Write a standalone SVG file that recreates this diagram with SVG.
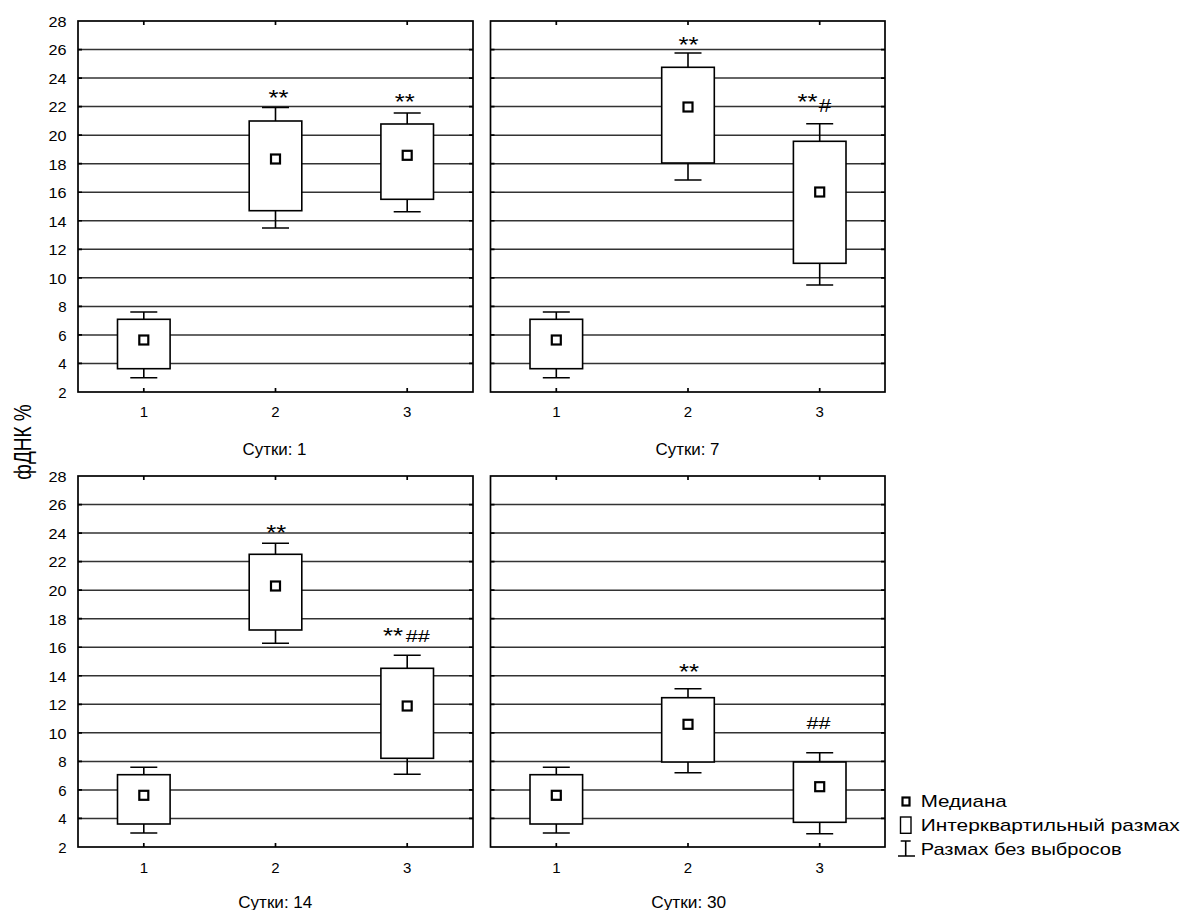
<svg xmlns="http://www.w3.org/2000/svg" width="1182" height="910" viewBox="0 0 1182 910">
<style>
text{font-family:"Liberation Sans",Arial,sans-serif;fill:#000}
.tk{font-size:15px}
.ttl{font-size:16.5px}
.ast{font-size:22px}
.hash{font-size:16.5px}
.lg{font-size:17px}
.grid line{stroke:#333;stroke-width:1.5}
.frame{fill:none;stroke:#000;stroke-width:1.7}
.ticks path{stroke:#000;stroke-width:1.7;fill:none}
.wh{stroke:#000;stroke-width:1.6;fill:none}
.box{fill:#fff;stroke:#000;stroke-width:1.6}
.med{fill:#fff;stroke:#000;stroke-width:2.2}
</style>
<rect width="1182" height="910" fill="#fff"/>

<!-- Y axis title -->
<text id="ytitle" transform="translate(31,442) scale(1.25,1) rotate(-90)" text-anchor="middle" style="font-size:19px">фДНК %</text>

<!-- Panel: Сутки 1 -->
<g id="panel-day1">
<g class="grid">
<line x1="78" y1="49.54" x2="473" y2="49.54"/><line x1="78" y1="78.08" x2="473" y2="78.08"/><line x1="78" y1="106.62" x2="473" y2="106.62"/><line x1="78" y1="135.15" x2="473" y2="135.15"/><line x1="78" y1="163.69" x2="473" y2="163.69"/><line x1="78" y1="192.23" x2="473" y2="192.23"/><line x1="78" y1="220.77" x2="473" y2="220.77"/><line x1="78" y1="249.31" x2="473" y2="249.31"/><line x1="78" y1="277.85" x2="473" y2="277.85"/><line x1="78" y1="306.38" x2="473" y2="306.38"/><line x1="78" y1="334.92" x2="473" y2="334.92"/><line x1="78" y1="363.46" x2="473" y2="363.46"/>
</g>
<g class="ticks"><path d="M143.8,21v4M275.5,21v4M407.2,21v4M143.8,392v-4M275.5,392v-4M407.2,392v-4M78,49.54h4M78,78.08h4M78,106.62h4M78,135.15h4M78,163.69h4M78,192.23h4M78,220.77h4M78,249.31h4M78,277.85h4M78,306.38h4M78,334.92h4M78,363.46h4M473,49.54h-4M473,78.08h-4M473,106.62h-4M473,135.15h-4M473,163.69h-4M473,192.23h-4M473,220.77h-4M473,249.31h-4M473,277.85h-4M473,306.38h-4M473,334.92h-4M473,363.46h-4"/></g>
<rect class="frame" x="78" y="21" width="395" height="371"/>
<g class="tk" text-anchor="end">
<text x="66.5" y="26.8" textLength="18" lengthAdjust="spacingAndGlyphs">28</text><text x="66.5" y="55.3" textLength="18" lengthAdjust="spacingAndGlyphs">26</text><text x="66.5" y="83.9" textLength="18" lengthAdjust="spacingAndGlyphs">24</text><text x="66.5" y="112.4" textLength="18" lengthAdjust="spacingAndGlyphs">22</text><text x="66.5" y="140.9" textLength="18" lengthAdjust="spacingAndGlyphs">20</text><text x="66.5" y="169.5" textLength="18" lengthAdjust="spacingAndGlyphs">18</text><text x="66.5" y="198" textLength="18" lengthAdjust="spacingAndGlyphs">16</text><text x="66.5" y="226.6" textLength="18" lengthAdjust="spacingAndGlyphs">14</text><text x="66.5" y="255.1" textLength="18" lengthAdjust="spacingAndGlyphs">12</text><text x="66.5" y="283.6" textLength="18" lengthAdjust="spacingAndGlyphs">10</text><text x="66.5" y="312.2">8</text><text x="66.5" y="340.7">6</text><text x="66.5" y="369.3">4</text><text x="66.5" y="397.8">2</text>
</g>
<g class="tk" text-anchor="middle"><text x="143.8" y="417.3">1</text><text x="275.5" y="417.3">2</text><text x="407.2" y="417.3">3</text></g>
<text class="ttl" x="274.5" y="455" text-anchor="middle" textLength="64" lengthAdjust="spacingAndGlyphs">Сутки: 1</text>
<g id="d1-g1"><path class="wh" d="M143.8,312V377.7M130.3,312h27M130.3,377.7h27"/><rect class="box" x="117.5" y="319.3" width="52.6" height="49.4"/><rect class="med" x="139.3" y="335.5" width="9" height="9"/></g>
<g id="d1-g2"><path class="wh" d="M275.5,107.5V228M262,107.5h27M262,228h27"/><rect class="box" x="249.2" y="121" width="52.6" height="89.7"/><rect class="med" x="271" y="154.5" width="9" height="9"/></g>
<g id="d1-g3"><path class="wh" d="M407.2,113V211.7M393.7,113h27M393.7,211.7h27"/><rect class="box" x="380.9" y="124" width="52.6" height="75.3"/><rect class="med" x="402.7" y="150.8" width="9" height="9"/></g>
<text class="ast" x="278.5" y="105.3" text-anchor="middle" textLength="20" lengthAdjust="spacingAndGlyphs">**</text>
<text class="ast" x="404.7" y="108.6" text-anchor="middle" textLength="20" lengthAdjust="spacingAndGlyphs">**</text>
</g>

<!-- Panel: Сутки 7 -->
<g id="panel-day7">
<g class="grid">
<line x1="490.5" y1="49.54" x2="885" y2="49.54"/><line x1="490.5" y1="78.08" x2="885" y2="78.08"/><line x1="490.5" y1="106.62" x2="885" y2="106.62"/><line x1="490.5" y1="135.15" x2="885" y2="135.15"/><line x1="490.5" y1="163.69" x2="885" y2="163.69"/><line x1="490.5" y1="192.23" x2="885" y2="192.23"/><line x1="490.5" y1="220.77" x2="885" y2="220.77"/><line x1="490.5" y1="249.31" x2="885" y2="249.31"/><line x1="490.5" y1="277.85" x2="885" y2="277.85"/><line x1="490.5" y1="306.38" x2="885" y2="306.38"/><line x1="490.5" y1="334.92" x2="885" y2="334.92"/><line x1="490.5" y1="363.46" x2="885" y2="363.46"/>
</g>
<g class="ticks"><path d="M556.3,21v4M688,21v4M819.7,21v4M556.3,392v-4M688,392v-4M819.7,392v-4M490.5,49.54h4M490.5,78.08h4M490.5,106.62h4M490.5,135.15h4M490.5,163.69h4M490.5,192.23h4M490.5,220.77h4M490.5,249.31h4M490.5,277.85h4M490.5,306.38h4M490.5,334.92h4M490.5,363.46h4M885,49.54h-4M885,78.08h-4M885,106.62h-4M885,135.15h-4M885,163.69h-4M885,192.23h-4M885,220.77h-4M885,249.31h-4M885,277.85h-4M885,306.38h-4M885,334.92h-4M885,363.46h-4"/></g>
<rect class="frame" x="490.5" y="21" width="394.5" height="371"/>
<g class="tk" text-anchor="middle"><text x="556.3" y="417.3">1</text><text x="688" y="417.3">2</text><text x="819.7" y="417.3">3</text></g>
<text class="ttl" x="687.5" y="455" text-anchor="middle" textLength="64" lengthAdjust="spacingAndGlyphs">Сутки: 7</text>
<g id="d7-g1"><path class="wh" d="M556.3,312V377.7M542.8,312h27M542.8,377.7h27"/><rect class="box" x="530" y="319.3" width="52.6" height="49.4"/><rect class="med" x="551.8" y="335.5" width="9" height="9"/></g>
<g id="d7-g2"><path class="wh" d="M688,53V180M674.5,53h27M674.5,180h27"/><rect class="box" x="661.7" y="67.3" width="52.6" height="95.7"/><rect class="med" x="683.5" y="102.5" width="9" height="9"/></g>
<g id="d7-g3"><path class="wh" d="M819.7,123.7V285M806.2,123.7h27M806.2,285h27"/><rect class="box" x="793.4" y="141.3" width="52.6" height="122"/><rect class="med" x="815.2" y="187.5" width="9" height="9"/></g>
<text class="ast" x="688.5" y="51.6" text-anchor="middle" textLength="20" lengthAdjust="spacingAndGlyphs">**</text>
<text class="ast" x="807.5" y="109.3" text-anchor="middle" textLength="20" lengthAdjust="spacingAndGlyphs">**</text>
<text x="824.9" y="111.7" text-anchor="middle" textLength="12.5" lengthAdjust="spacingAndGlyphs" style="font-size:18.5px">#</text>
</g>

<!-- Panel: Сутки 14 -->
<g id="panel-day14">
<g class="grid">
<line x1="78" y1="504.54" x2="473" y2="504.54"/><line x1="78" y1="533.08" x2="473" y2="533.08"/><line x1="78" y1="561.62" x2="473" y2="561.62"/><line x1="78" y1="590.15" x2="473" y2="590.15"/><line x1="78" y1="618.69" x2="473" y2="618.69"/><line x1="78" y1="647.23" x2="473" y2="647.23"/><line x1="78" y1="675.77" x2="473" y2="675.77"/><line x1="78" y1="704.31" x2="473" y2="704.31"/><line x1="78" y1="732.85" x2="473" y2="732.85"/><line x1="78" y1="761.38" x2="473" y2="761.38"/><line x1="78" y1="789.92" x2="473" y2="789.92"/><line x1="78" y1="818.46" x2="473" y2="818.46"/>
</g>
<g class="ticks"><path d="M143.8,476v4M275.5,476v4M407.2,476v4M143.8,847v-4M275.5,847v-4M407.2,847v-4M78,504.54h4M78,533.08h4M78,561.62h4M78,590.15h4M78,618.69h4M78,647.23h4M78,675.77h4M78,704.31h4M78,732.85h4M78,761.38h4M78,789.92h4M78,818.46h4M473,504.54h-4M473,533.08h-4M473,561.62h-4M473,590.15h-4M473,618.69h-4M473,647.23h-4M473,675.77h-4M473,704.31h-4M473,732.85h-4M473,761.38h-4M473,789.92h-4M473,818.46h-4"/></g>
<rect class="frame" x="78" y="476" width="395" height="371"/>
<g class="tk" text-anchor="end">
<text x="66.5" y="481.8" textLength="18" lengthAdjust="spacingAndGlyphs">28</text><text x="66.5" y="510.3" textLength="18" lengthAdjust="spacingAndGlyphs">26</text><text x="66.5" y="538.9" textLength="18" lengthAdjust="spacingAndGlyphs">24</text><text x="66.5" y="567.4" textLength="18" lengthAdjust="spacingAndGlyphs">22</text><text x="66.5" y="595.9" textLength="18" lengthAdjust="spacingAndGlyphs">20</text><text x="66.5" y="624.5" textLength="18" lengthAdjust="spacingAndGlyphs">18</text><text x="66.5" y="653" textLength="18" lengthAdjust="spacingAndGlyphs">16</text><text x="66.5" y="681.6" textLength="18" lengthAdjust="spacingAndGlyphs">14</text><text x="66.5" y="710.1" textLength="18" lengthAdjust="spacingAndGlyphs">12</text><text x="66.5" y="738.6" textLength="18" lengthAdjust="spacingAndGlyphs">10</text><text x="66.5" y="767.2">8</text><text x="66.5" y="795.7">6</text><text x="66.5" y="824.3">4</text><text x="66.5" y="852.8">2</text>
</g>
<g class="tk" text-anchor="middle"><text x="143.8" y="873.3">1</text><text x="275.5" y="873.3">2</text><text x="407.2" y="873.3">3</text></g>
<text class="ttl" x="275.3" y="908.4" text-anchor="middle" textLength="74" lengthAdjust="spacingAndGlyphs">Сутки: 14</text>
<g id="d14-g1"><path class="wh" d="M143.8,767.3V833M130.3,767.3h27M130.3,833h27"/><rect class="box" x="117.5" y="774.7" width="52.6" height="49.3"/><rect class="med" x="139.3" y="790.8" width="9" height="9"/></g>
<g id="d14-g2"><path class="wh" d="M275.5,543.3V643.3M262,543.3h27M262,643.3h27"/><rect class="box" x="249.2" y="554.3" width="52.6" height="75.7"/><rect class="med" x="271" y="581.5" width="9" height="9"/></g>
<g id="d14-g3"><path class="wh" d="M407.2,655.3V774.3M393.7,655.3h27M393.7,774.3h27"/><rect class="box" x="380.9" y="668.3" width="52.6" height="90"/><rect class="med" x="402.7" y="701.5" width="9" height="9"/></g>
<text class="ast" x="276.2" y="540.3" text-anchor="middle" textLength="20" lengthAdjust="spacingAndGlyphs">**</text>
<text class="ast" x="392.9" y="642.6" text-anchor="middle" textLength="20" lengthAdjust="spacingAndGlyphs">**</text>
<text class="hash" x="417.7" y="641.7" text-anchor="middle" textLength="24" lengthAdjust="spacingAndGlyphs">##</text>
</g>

<!-- Panel: Сутки 30 -->
<g id="panel-day30">
<g class="grid">
<line x1="490.5" y1="504.54" x2="885" y2="504.54"/><line x1="490.5" y1="533.08" x2="885" y2="533.08"/><line x1="490.5" y1="561.62" x2="885" y2="561.62"/><line x1="490.5" y1="590.15" x2="885" y2="590.15"/><line x1="490.5" y1="618.69" x2="885" y2="618.69"/><line x1="490.5" y1="647.23" x2="885" y2="647.23"/><line x1="490.5" y1="675.77" x2="885" y2="675.77"/><line x1="490.5" y1="704.31" x2="885" y2="704.31"/><line x1="490.5" y1="732.85" x2="885" y2="732.85"/><line x1="490.5" y1="761.38" x2="885" y2="761.38"/><line x1="490.5" y1="789.92" x2="885" y2="789.92"/><line x1="490.5" y1="818.46" x2="885" y2="818.46"/>
</g>
<g class="ticks"><path d="M556.3,476v4M688,476v4M819.7,476v4M556.3,847v-4M688,847v-4M819.7,847v-4M490.5,504.54h4M490.5,533.08h4M490.5,561.62h4M490.5,590.15h4M490.5,618.69h4M490.5,647.23h4M490.5,675.77h4M490.5,704.31h4M490.5,732.85h4M490.5,761.38h4M490.5,789.92h4M490.5,818.46h4M885,504.54h-4M885,533.08h-4M885,561.62h-4M885,590.15h-4M885,618.69h-4M885,647.23h-4M885,675.77h-4M885,704.31h-4M885,732.85h-4M885,761.38h-4M885,789.92h-4M885,818.46h-4"/></g>
<rect class="frame" x="490.5" y="476" width="394.5" height="371"/>
<g class="tk" text-anchor="middle"><text x="556.3" y="873.3">1</text><text x="688" y="873.3">2</text><text x="819.7" y="873.3">3</text></g>
<text class="ttl" x="688.7" y="908.4" text-anchor="middle" textLength="75" lengthAdjust="spacingAndGlyphs">Сутки: 30</text>
<g id="d30-g1"><path class="wh" d="M556.3,767.3V833M542.8,767.3h27M542.8,833h27"/><rect class="box" x="530" y="774.7" width="52.6" height="49.3"/><rect class="med" x="551.8" y="790.8" width="9" height="9"/></g>
<g id="d30-g2"><path class="wh" d="M688,688.7V772.7M674.5,688.7h27M674.5,772.7h27"/><rect class="box" x="661.7" y="697.7" width="52.6" height="64.3"/><rect class="med" x="683.5" y="719.8" width="9" height="9"/></g>
<g id="d30-g3"><path class="wh" d="M819.7,752.7V833.7M806.2,752.7h27M806.2,833.7h27"/><rect class="box" x="793.4" y="762" width="52.6" height="60.3"/><rect class="med" x="815.2" y="782.2" width="9" height="9"/></g>
<text class="ast" x="689" y="678.5" text-anchor="middle" textLength="20" lengthAdjust="spacingAndGlyphs">**</text>
<text x="818.5" y="729.3" text-anchor="middle" textLength="24" lengthAdjust="spacingAndGlyphs" style="font-size:17px">##</text>
</g>

<!-- Legend -->
<g id="legend">
<rect class="med" x="902.5" y="797.5" width="7" height="8"/>
<text class="lg" x="920.7" y="806.6" textLength="86" lengthAdjust="spacingAndGlyphs">Медиана</text>
<rect x="900.5" y="817" width="10.5" height="16.3" fill="#fff" stroke="#000" stroke-width="1.4"/>
<text class="lg" x="920.7" y="830.8" textLength="259" lengthAdjust="spacingAndGlyphs">Интерквартильный размах</text>
<path d="M905.7,841V856M900.7,841h10M898,856h17" stroke="#000" stroke-width="1.6" fill="none"/>
<text class="lg" x="920.7" y="855" textLength="201" lengthAdjust="spacingAndGlyphs">Размах без выбросов</text>
</g>
</svg>
